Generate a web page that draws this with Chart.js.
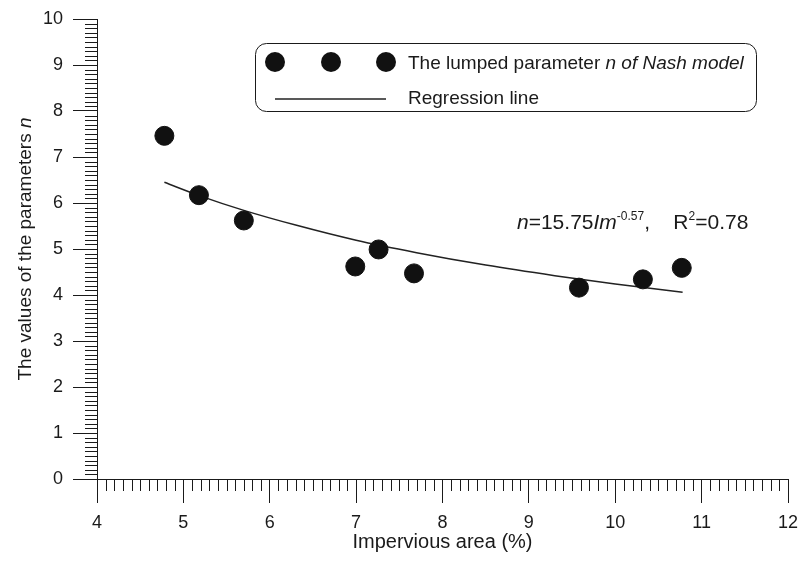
<!DOCTYPE html>
<html>
<head>
<meta charset="utf-8">
<script src="https://cdn.jsdelivr.net/npm/chart.js@4/dist/chart.umd.min.js"></script>
<style>
  html, body { margin: 0; padding: 0; background: #fff; }
  #wrap { width: 800px; height: 564px; position: relative; }
</style>
</head>
<body>
<div id="wrap"><canvas id="c" width="800" height="564"></canvas></div>
<script>
// ---- data ----
const imperviousArea = [4.78, 5.18, 5.70, 6.99, 7.26, 7.67, 9.58, 10.32, 10.77];
const nashN          = [7.46, 6.17, 5.62, 4.62, 4.99, 4.47, 4.16, 4.34, 4.59];
const regressionX    = [4.78, 5.2, 5.7, 6.3, 7.0, 7.7, 8.5, 9.3, 10.0, 10.78];
const regressionY    = [6.45, 6.15, 5.84, 5.52, 5.19, 4.92, 4.65, 4.42, 4.24, 4.06];
const xTickLabels    = [4, 5, 6, 7, 8, 9, 10, 11, 12];
const yTickLabels    = [0, 1, 2, 3, 4, 5, 6, 7, 8, 9, 10];
const seriesNames    = ['The lumped parameter ', 'n of Nash model', 'Regression line'];
const axisTitles     = { x: 'Impervious area (%)', y: 'The values of the parameters ', yItalic: 'n' };

const FONT = '"Liberation Sans", Arial, sans-serif';
const INK = '#1a1a1a';

const pointsData = imperviousArea.map((x, i) => ({ x, y: nashN[i] }));
const lineData = regressionX.map((x, i) => ({ x, y: regressionY[i] }));

const minorTicks = {
  id: 'minorTicks',
  afterDraw(chart) {
    const ctx = chart.ctx;
    const xs = chart.scales.x, ys = chart.scales.y;
    ctx.save();
    ctx.strokeStyle = INK;
    ctx.lineWidth = 1;
    ctx.beginPath();
    for (let k = 40; k <= 120; k++) {
      if (k % 10 === 0) continue;
      const px = Math.round(xs.getPixelForValue(k / 10)) + 0.5;
      ctx.moveTo(px, ys.bottom);
      ctx.lineTo(px, ys.bottom + 12);
    }
    for (let k = 0; k <= 100; k++) {
      if (k % 10 === 0) continue;
      const py = Math.round(ys.getPixelForValue(k / 10)) + 0.5;
      ctx.moveTo(xs.left, py);
      ctx.lineTo(xs.left - 12, py);
    }
    ctx.stroke();
    ctx.restore();
  }
};

function drawRuns(ctx, runs, x, y, baseSize) {
  let cx = x;
  for (const r of runs) {
    ctx.font = (r.style || 'normal') + ' ' + (r.size || baseSize) + 'px ' + FONT;
    ctx.fillText(r.t, cx, y + (r.dy || 0));
    cx += ctx.measureText(r.t).width;
  }
  return cx;
}

const decorations = {
  id: 'decorations',
  afterDraw(chart) {
    const ctx = chart.ctx;
    const ds0 = chart.data.datasets[0];
    const ds1 = chart.data.datasets[1];
    ctx.save();
    ctx.fillStyle = INK;
    ctx.textBaseline = 'alphabetic';
    ctx.textAlign = 'left';

    ctx.strokeStyle = INK;
    ctx.lineWidth = 1;
    ctx.beginPath();
    ctx.roundRect(255.5, 43.5, 501, 68, 11);
    ctx.stroke();
    ctx.fillStyle = ds0.backgroundColor;
    for (const mx of [275, 331, 386]) {
      ctx.beginPath();
      ctx.arc(mx, 62, 10, 0, Math.PI * 2);
      ctx.fill();
    }
    ctx.strokeStyle = ds1.borderColor;
    ctx.lineWidth = ds1.borderWidth;
    ctx.beginPath();
    ctx.moveTo(275, 99);
    ctx.lineTo(386, 99);
    ctx.stroke();
    ctx.fillStyle = INK;
    drawRuns(ctx, [{ t: seriesNames[0] }, { t: seriesNames[1], style: 'italic' }], 408, 69, 19);
    drawRuns(ctx, [{ t: seriesNames[2] }], 408, 104, 19);

    drawRuns(ctx, [
      { t: 'n', style: 'italic' },
      { t: '=15.75' },
      { t: 'Im', style: 'italic' },
      { t: '-0.57', size: 12, dy: -9 },
      { t: ',    R' },
      { t: '2', size: 12, dy: -9 },
      { t: '=0.78' }
    ], 517, 229, 21);

    const xs = chart.scales.x, ys = chart.scales.y;
    ctx.font = '20px ' + FONT;
    ctx.textAlign = 'center';
    ctx.textBaseline = 'middle';
    ctx.fillText(axisTitles.x, (xs.left + xs.right) / 2, 542);

    ctx.translate(26, (ys.top + ys.bottom) / 2);
    ctx.rotate(-Math.PI / 2);
    ctx.textAlign = 'left';
    ctx.font = '19px ' + FONT;
    const w1 = ctx.measureText(axisTitles.y).width;
    ctx.font = 'italic 19px ' + FONT;
    const w2 = ctx.measureText(axisTitles.yItalic).width;
    drawRuns(ctx, [{ t: axisTitles.y }, { t: axisTitles.yItalic, style: 'italic' }], -(w1 + w2) / 2, 0, 19);
    ctx.restore();
  }
};

new Chart(document.getElementById('c'), {
  type: 'scatter',
  data: {
    datasets: [
      {
        label: seriesNames[0] + seriesNames[1],
        data: pointsData,
        backgroundColor: '#111111',
        borderColor: '#111111',
        pointRadius: 9.5,
        pointHoverRadius: 9.5,
        showLine: false,
        order: 1
      },
      {
        label: seriesNames[2],
        data: lineData,
        showLine: true,
        borderColor: '#222222',
        borderWidth: 1.5,
        pointRadius: 0,
        fill: false,
        cubicInterpolationMode: 'monotone',
        order: 2
      }
    ]
  },
  options: {
    responsive: false,
    animation: false,
    events: [],
    layout: { padding: { top: 19, right: 12, left: 0, bottom: 0 } },
    plugins: { legend: { display: false }, tooltip: { enabled: false } },
    scales: {
      x: {
        type: 'linear',
        min: 4, max: 12,
        afterBuildTicks(scale) { scale.ticks = xTickLabels.map(v => ({ value: v })); },
        afterFit(scale) { scale.height = 85; scale.paddingRight = 0; scale.paddingLeft = 0; },
        ticks: { color: INK, font: { family: FONT, size: 18 }, padding: 9, maxRotation: 0, autoSkip: false },
        grid: { drawOnChartArea: false, drawTicks: true, tickLength: 24, color: INK, tickWidth: 1 },
        border: { display: true, color: INK, width: 1 }
      },
      y: {
        type: 'linear',
        min: 0, max: 10,
        afterBuildTicks(scale) { scale.ticks = yTickLabels.map(v => ({ value: v })); },
        afterFit(scale) { scale.width = 97; scale.paddingTop = 0; scale.paddingBottom = 0; },
        ticks: { color: INK, font: { family: FONT, size: 18 }, padding: 10, autoSkip: false },
        grid: { drawOnChartArea: false, drawTicks: true, tickLength: 24, color: INK, tickWidth: 1 },
        border: { display: true, color: INK, width: 1 }
      }
    }
  },
  plugins: [minorTicks, decorations]
});
</script>
</body>
</html>
